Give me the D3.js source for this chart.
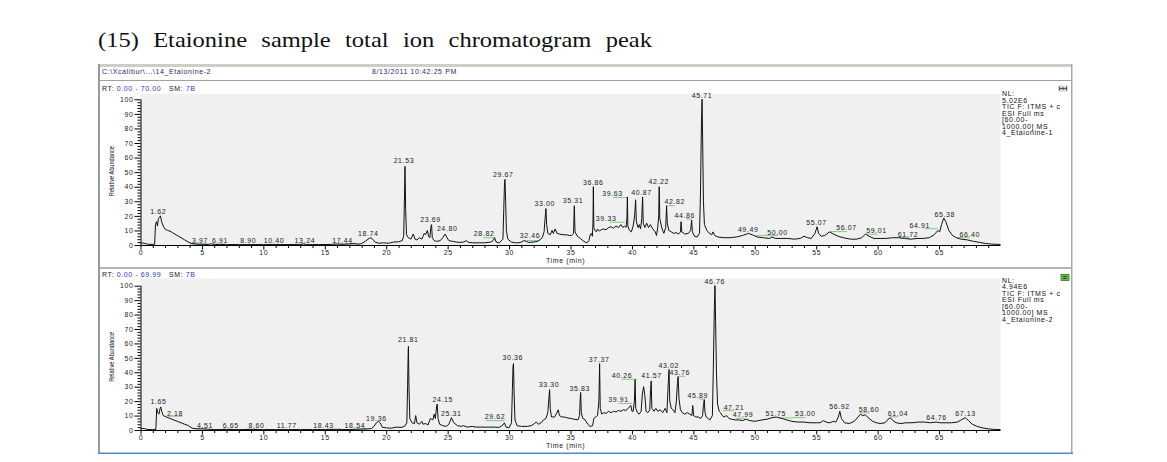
<!DOCTYPE html>
<html>
<head>
<meta charset="utf-8">
<script src="https://cdn.jsdelivr.net/npm/d3@7"></script>
<style>
  html, body { margin: 0; padding: 0; background: #ffffff; }
  svg { display: block; }
  .sm { font-family: "Liberation Sans", Arial, sans-serif; font-size: 7px; letter-spacing: 0.6px; }
</style>
</head>
<body>
<svg id="chart" width="1167" height="462"></svg>
<script>
// ---------------- DATA ----------------
const titleText = "(15) Etaionine sample total ion chromatogram peak";
const headerFile = "C:\\Xcalibur\\...\\14_Etaionine-2";
const headerDate = "8/13/2011 10:42:25 PM";
const xTicks = [0, 5, 10, 15, 20, 25, 30, 35, 40, 45, 50, 55, 60, 65];
const yTicks = [0, 10, 20, 30, 40, 50, 60, 70, 80, 90, 100];

const topInfo = ["NL:", "5.02E6", "TIC F: ITMS + c", "ESI Full ms", "[60.00-", "1000.00]  MS", "4_Etaionine-1"];
const botInfo = ["NL:", "4.94E6", "TIC F: ITMS + c", "ESI Full ms", "[60.00-", "1000.00]  MS", "4_Etaionine-2"];
const topRT = ["RT: ", "0.00 - 70.00", "   SM: ", "7B"];
const botRT = ["RT: ", "0.00 - 69.99", "   SM: ", "7B"];

// [time (min), relative abundance]
const topTrace = [
 [0,1.5],[0.3,1.2],[0.6,0.5],[1.0,0.4],[1.15,0.5],[1.22,14],[1.3,16],[1.38,13],[1.45,18],[1.55,19],[1.62,20],[1.72,16],
 [1.85,13],[2.0,11],[2.2,10],[2.4,9.5],[2.6,8.5],[2.8,7.5],[3.0,6.5],[3.3,5],[3.6,3.5],[3.9,2],[4.2,1],[4.6,0.6],[5.0,0.5],
 [5.5,0.4],[5.8,0.8],[6.0,0.3],[6.5,0.4],[7.0,0.3],[8.0,0.3],[9.0,0.3],[10.0,0.3],[11.0,0.3],[12.0,0.3],[13.0,0.4],[13.3,0.7],
 [13.5,0.3],[14.5,0.3],[15.5,0.4],[16.0,0.7],[16.5,0.5],[17.0,0.8],[17.4,1.0],[17.7,0.6],[18.0,1.0],[18.3,2.5],[18.6,4.5],
 [18.74,5],[18.9,4],[19.1,2],[19.4,1.2],[19.8,1.5],[20.2,1.2],[20.6,2],[21.0,2.2],[21.3,3],[21.42,6],[21.48,30],[21.53,54],
 [21.58,25],[21.65,7],[21.8,5],[22.0,4],[22.2,7.5],[22.35,4],[22.5,3.5],[22.7,5],[22.9,4],[23.0,6],[23.1,8],[23.2,7],[23.35,10],
 [23.45,6],[23.55,5],[23.63,12],[23.69,14],[23.75,5],[23.9,3],[24.1,2.5],[24.4,3],[24.6,5],[24.8,7.5],[24.95,5],[25.1,3],
 [25.4,2.5],[25.7,2],[26.0,1.8],[26.3,2],[26.5,3],[26.7,1.8],[27.0,1.5],[27.5,1.5],[28.0,1.5],[28.5,2],[28.7,3],[28.82,5],
 [28.95,2],[29.2,1.5],[29.5,4],[29.57,25],[29.63,43],[29.67,45],[29.72,30],[29.78,10],[29.9,4],[30.2,2],[30.5,1.5],[30.8,1.5],
 [31.0,2],[31.2,3],[31.4,2.5],[31.6,1.8],[32.0,2],[32.3,2.5],[32.5,3.5],[32.7,5],[32.85,9],[32.93,18],[33.0,25],[33.06,14],
 [33.15,8],[33.35,7],[33.5,10],[33.6,8],[33.75,11],[33.9,8],[34.1,7.5],[34.4,7],[34.7,7],[34.9,6.5],[35.1,6.5],[35.25,8],
 [35.31,27],[35.37,9],[35.55,6],[35.8,4.5],[36.0,3],[36.2,2],[36.35,1.5],[36.5,3],[36.6,7],[36.7,8],[36.78,6],[36.83,15],
 [36.86,40],[36.9,12],[37.0,10],[37.1,9],[37.2,11],[37.35,9.5],[37.5,10.5],[37.7,11],[37.9,10.5],[38.1,12],[38.3,12.5],
 [38.5,11.5],[38.7,13],[38.9,12],[39.1,14],[39.25,12],[39.4,13],[39.52,12],[39.59,18],[39.63,33],[39.67,13],[39.8,10],[39.95,9],
 [40.1,13],[40.22,20],[40.3,31],[40.36,16],[40.5,12],[40.6,14],[40.7,11],[40.8,18],[40.87,33],[40.92,15],[41.05,12],[41.2,15],
 [41.35,12],[41.5,14],[41.7,11],[41.9,9],[42.0,6.5],[42.1,12],[42.18,20],[42.22,40],[42.27,18],[42.4,13],[42.5,10],[42.6,8],
 [42.75,12],[42.82,27],[42.88,15],[43.0,10],[43.2,9],[43.4,8],[43.6,8.5],[43.8,7.5],[43.95,9],[44.0,16],[44.06,9],[44.3,7.5],
 [44.6,8],[44.78,10],[44.86,17],[44.92,9],[45.1,6],[45.3,5.5],[45.5,8],[45.58,35],[45.66,85],[45.71,100],[45.76,70],[45.82,30],
 [45.9,14],[46.1,10],[46.3,8],[46.5,7],[46.6,9],[46.75,6.5],[47.0,5.5],[47.5,5],[48.0,5],[48.5,5.5],[49.0,6.5],[49.49,8],
 [49.8,7],[50.2,5.5],[50.7,5],[51.2,4.5],[51.4,5.5],[51.7,4.5],[52.2,4.5],[52.7,4.5],[53.2,4],[53.7,4.5],[54.0,6],[54.3,5],
 [54.6,4.5],[54.9,8],[55.07,12.5],[55.2,8],[55.4,6],[55.7,6.5],[56.07,9],[56.4,7.5],[56.8,6],[57.2,5],[57.8,4],[58.3,4],
 [58.7,5],[59.01,7.5],[59.3,6],[59.7,4.5],[60.2,4.5],[60.7,4.5],[61.2,5],[61.72,5],[62.2,4.5],[62.7,4],[63.2,4.5],[63.7,4.5],
 [64.2,5],[64.6,7],[64.91,10],[65.05,9],[65.2,14],[65.38,18.5],[65.55,16],[65.8,10],[66.1,6.5],[66.4,5],[66.8,4],[67.3,3.5],
 [67.8,2.5],[68.3,1.8],[68.8,1],[69.3,0.6],[70.0,0.4]
];

const botTrace = [
 [0,1.2],[0.3,1],[0.6,0.3],[1.0,0.3],[1.25,0.4],[1.32,15],[1.4,12],[1.5,11],[1.6,15],[1.65,16],[1.72,13],[1.85,10],[2.1,9],
 [2.4,8],[2.7,7],[3.0,6],[3.3,5],[3.6,4],[3.9,3],[4.2,1.2],[4.6,0.8],[5.0,0.8],[5.5,0.5],[6.0,0.3],[7.0,0.3],[8.0,0.3],
 [9.0,0.3],[10.0,0.3],[11.0,0.3],[12.0,0.3],[13.0,0.3],[14.0,0.3],[15.0,0.3],[16.0,0.3],[17.0,0.3],[17.8,0.6],[18.5,0.8],
 [18.8,1.0],[19.0,2.5],[19.2,5],[19.36,6],[19.5,5],[19.7,1.8],[20.0,1.5],[20.4,1.2],[20.8,2],[21.2,1.8],[21.5,2.5],[21.68,5],
 [21.74,30],[21.79,55],[21.81,58],[21.85,30],[21.92,8],[22.1,5],[22.3,4.5],[22.4,10],[22.5,5],[22.7,4],[22.9,6],[23.0,4],
 [23.2,4.5],[23.4,3.5],[23.6,8],[23.8,7],[23.9,11],[24.0,8],[24.1,16],[24.15,18],[24.22,8],[24.35,4],[24.6,3],[24.9,2.5],
 [25.1,4],[25.31,8.5],[25.5,5],[25.8,3],[26.1,2.5],[26.3,3],[26.6,2],[27.0,2.5],[27.3,2],[27.8,2],[28.3,2],[28.8,2],[29.2,1.8],
 [29.5,3.5],[29.62,5],[29.75,2],[30.0,1.5],[30.2,5],[30.27,28],[30.32,44],[30.36,46],[30.41,25],[30.48,7],[30.65,3],[31.0,2.5],
 [31.5,2.5],[31.8,3],[32.0,4],[32.2,5.5],[32.4,4],[32.6,5],[32.8,7],[33.0,8],[33.15,12],[33.24,22],[33.3,28],[33.35,15],
 [33.45,9],[33.7,9],[33.9,12],[34.0,14],[34.1,10],[34.3,9],[34.5,9],[34.7,8.5],[35.0,8],[35.3,7.5],[35.6,7],[35.74,10],
 [35.79,22],[35.83,26],[35.88,12],[36.0,8],[36.2,7],[36.4,4],[36.6,2.5],[36.8,3],[36.9,8],[37.05,9],[37.2,10],[37.31,20],
 [37.37,46],[37.42,15],[37.55,11],[37.7,12],[37.9,11.5],[38.1,13],[38.3,12],[38.5,13],[38.7,12.5],[38.9,13.5],[39.1,13],
 [39.3,14],[39.5,13.5],[39.7,15],[39.91,17],[40.0,13],[40.1,13],[40.2,20],[40.26,35],[40.31,15],[40.45,12],[40.6,11],
 [40.75,13],[40.85,25],[40.95,30],[41.05,24],[41.15,13],[41.3,12],[41.45,14],[41.52,28],[41.57,34],[41.62,15],[41.8,13],
 [41.95,15],[42.1,13],[42.3,14],[42.5,12],[42.7,15],[42.85,12],[42.96,33],[43.02,42],[43.08,20],[43.2,15],[43.35,14],[43.5,12],
 [43.62,20],[43.7,32],[43.76,37],[43.83,22],[43.95,14],[44.1,12],[44.3,11],[44.5,12],[44.7,11],[44.88,10],[44.95,17],[45.02,10],
 [45.2,9],[45.4,9],[45.6,8],[45.75,10],[45.82,17],[45.89,21],[45.95,12],[46.05,9],[46.2,8],[46.35,7],[46.55,10],[46.63,45],
 [46.71,85],[46.76,100],[46.81,75],[46.88,40],[46.97,18],[47.1,13],[47.21,12],[47.35,10],[47.5,9],[47.7,10],[47.9,8],[48.1,7.5],
 [48.4,7],[48.7,7],[49.0,6.5],[49.3,7.5],[49.6,6.5],[50.0,6],[50.3,6.5],[50.6,7],[51.0,7.5],[51.4,8.5],[51.75,9],[52.2,8],
 [52.6,7],[53.0,6],[53.5,5.5],[54.0,5.5],[54.5,5],[55.0,5],[55.3,5],[55.6,6.5],[55.8,5.5],[56.1,5],[56.4,6],[56.6,5.5],
 [56.8,9],[56.92,13],[57.05,8],[57.3,5],[57.7,4.5],[58.1,6],[58.4,9],[58.6,11],[58.8,10],[59.0,10.5],[59.3,8],[59.6,6],
 [59.9,5],[60.2,4.5],[60.6,5],[60.85,7.5],[61.04,8.5],[61.25,6.5],[61.5,5],[61.9,4.5],[62.3,5],[62.8,5],[63.3,5.5],[63.8,5.5],
 [64.3,5],[64.76,5.5],[65.1,5],[65.5,5],[66.0,5],[66.5,5.5],[66.8,7],[67.13,8.5],[67.4,6.5],[67.7,4],[68.1,2.5],[68.5,1.5],
 [69.0,0.8],[69.5,0.4],[70.0,0.3]
];

// peak labels: [text, time of label centre, abundance of label baseline]
const topLabels = [
 ["1.62",1.45,21.5],["3.97",4.85,1.6],["6.91",6.47,1.6],["8.90",8.77,1.6],["10.40",10.86,1.6],["13.24",13.38,1.6],
 ["17.44",16.45,1.6],["18.74",18.54,6.5],["21.53",21.44,56.5],["23.69",23.6,16],["24.80",24.96,9.5],["28.82",27.97,6.5],
 ["29.67",29.52,47],["32.46",31.7,4.5],["33.00",32.9,27],["35.31",35.2,28.7],["36.86",36.85,41],["39.33",37.9,16.5],
 ["39.63",38.42,33.5],["40.87",40.78,34.2],["42.22",42.19,42.2],["42.82",43.49,27.8],["44.86",44.3,18.2],["45.71",45.71,101.2],
 ["49.49",49.46,8.8],["50.00",51.85,7.2],["55.07",55.02,13.4],["56.07",57.46,10],["59.01",59.9,7.9],["61.72",62.47,5.6],
 ["64.91",63.42,11.8],["65.38",65.46,19.4],["66.40",67.5,5.6]
];
const botLabels = [
 ["1.65",1.46,17.9],["2.18",2.8,9.8],["4.51",5.25,1.6],["6.65",7.35,1.6],["8.60",9.45,1.6],["11.77",11.9,1.6],
 ["18.43",14.9,1.6],["18.54",17.45,1.6],["19.36",19.2,6.2],["21.81",21.8,61],["24.15",24.6,19.7],["25.31",25.3,9.4],
 ["29.62",28.85,7.5],["30.36",30.3,48.5],["33.30",33.25,29.5],["35.83",35.76,27.2],["37.37",37.33,47.2],["39.91",38.9,19.5],
 ["40.26",39.2,36],["41.57",41.6,36],["43.02",43.0,43.2],["43.76",43.9,38],["45.89",45.35,22.2],["46.76",46.75,101.5],
 ["47.21",48.3,14.2],["47.99",49.05,8.8],["51.75",51.7,9.9],["53.00",54.1,9.4],["56.92",56.9,14.8],["58.60",59.3,12.6],
 ["61.04",61.65,9.9],["64.76",64.8,7.2],["67.13",67.15,9.9]
];

// green label-marker segments: [start time, end time, abundance]
const topMarks = [
 [4.0,5.5,0.6],[5.8,6.9,0.6],[10.3,11.35,0.5],[12.9,13.5,0.5],[15.7,17.6,0.6],[27.9,28.85,5],[31.4,32.5,3],
 [38.2,39.4,15.6],[38.45,39.6,32.6],[42.95,43.5,27],[44.4,44.9,17.8],[50.1,51.9,6.6],[56.1,57.5,9.2],
 [59.0,60.0,7.4],[61.8,62.6,5.0],[63.8,64.9,11.2],[66.5,67.5,5.0]
];
const botMarks = [
 [2.2,3.4,9.5],[4.6,5.4,1.0],[6.6,7.4,0.7],[8.65,9.45,0.7],[15.15,16.35,0.6],[17.6,18.5,0.7],[28.1,29.65,6.5],
 [38.9,40.0,18.4],[39.15,40.4,35.2],[43.75,44.3,37.2],[45.45,45.95,21.4],[47.4,48.3,13.4],[48.5,49.2,8.2],
 [51.95,53.1,8.4],[53.1,54.1,8.6],[58.55,59.35,12],[61.0,61.7,9.2]
];

// ---------------- DRAW ----------------
const svg = d3.select("#chart");
const FONT = "Liberation Sans, Arial, sans-serif";

// title (horizontally widened serif to match the book face)
const TSX = 1.14;
const title = svg.append("text")
  .attr("transform", `translate(98,47) scale(${TSX},1)`)
  .attr("font-family", "Liberation Serif, Times New Roman, serif")
  .attr("font-size", 21.5).attr("fill", "#111")
  .text(titleText);
const tl = title.node().getComputedTextLength();
const nSpaces = titleText.split(" ").length - 1;
title.attr("word-spacing", Math.max(0, (554 / TSX - tl) / nSpaces));

// window frame
svg.append("rect").attr("x", 98).attr("y", 64).attr("width", 974).attr("height", 3).attr("fill", "#cfcdc5");
svg.append("rect").attr("x", 98).attr("y", 64).attr("width", 2).attr("height", 390).attr("fill", "#9a9a9a");
svg.append("rect").attr("x", 1071).attr("y", 64).attr("width", 1.5).attr("height", 390).attr("fill", "#a8a8a8");
svg.append("rect").attr("x", 100).attr("y", 80).attr("width", 971).attr("height", 1).attr("fill", "#a0a0a0");
svg.append("rect").attr("x", 100).attr("y", 267).attr("width", 971).attr("height", 2).attr("fill", "#b4b4b4");
svg.append("rect").attr("x", 98).attr("y", 452.5).attr("width", 975).attr("height", 1.5).attr("fill", "#5b86c8");

// header
svg.append("text").attr("class", "sm").attr("x", 102).attr("y", 74).attr("fill", "#1d2a6e").text(headerFile);
svg.append("text").attr("class", "sm").attr("x", 372).attr("y", 74).attr("fill", "#1d2a6e").text(headerDate);

const x = d3.scaleLinear().domain([0, 70]).range([140.5, 1000.5]);

function panel(cfg) {
  const y = d3.scaleLinear().domain([0, 100]).range([cfg.y0, cfg.y100]);
  const g = svg.append("g");
  // plot background
  g.append("rect").attr("x", x(0)).attr("y", cfg.bgTop)
    .attr("width", x(70) - x(0)).attr("height", cfg.y0 - cfg.bgTop).attr("fill", "#f0f0f0");

  // RT line
  const rt = g.append("text").attr("class", "sm").attr("x", 102).attr("y", cfg.rtY).attr("xml:space", "preserve");
  cfg.rt.forEach((s, i) => rt.append("tspan").attr("fill", i % 2 ? "#2c35c8" : "#222").text(s));

  // x axis
  const xa = g.append("g").attr("transform", `translate(0,${cfg.y0})`)
    .call(d3.axisBottom(x).tickValues(d3.range(0, 70, 1)).tickSize(3).tickFormat(""));
  xa.selectAll(".tick line").attr("y2", d => d % 5 === 0 ? 4.5 : 3);
  xa.select(".domain").attr("d", `M${x(0)},0.5H${x(70)}`);
  g.append("g").attr("transform", `translate(0,${cfg.y0})`)
    .call(d3.axisBottom(x).tickValues(xTicks).tickSize(0).tickPadding(5))
    .call(s => s.select(".domain").remove())
    .selectAll("text").attr("class", "sm").attr("font-family", FONT).attr("fill", "#222");

  // y axis
  const ya = g.append("g").attr("transform", `translate(${x(0)},0)`)
    .call(d3.axisLeft(y).tickValues(d3.range(0, 101, 2)).tickSize(3).tickFormat(""));
  ya.selectAll(".tick line").attr("x2", d => d % 10 === 0 ? -6 : -3);
  ya.select(".domain").attr("d", `M0.5,${cfg.y0}V${cfg.y100}`);
  g.append("g").attr("transform", `translate(${x(0)},0)`)
    .call(d3.axisLeft(y).tickValues(yTicks).tickSize(0).tickPadding(7))
    .call(s => s.select(".domain").remove())
    .selectAll("text").attr("class", "sm").attr("font-family", FONT).attr("fill", "#222");

  svg.selectAll(".tick text").attr("font-size", null);

  // axis titles
  g.append("text").attr("font-family", FONT).attr("font-size", 6.5).attr("fill", "#222")
    .attr("transform", `translate(114,${(cfg.y0 + cfg.y100) / 2 - 1}) rotate(-90)`)
    .attr("text-anchor", "middle").attr("textLength", 50).attr("lengthAdjust", "spacingAndGlyphs")
    .text("Relative Abundance");
  g.append("text").attr("class", "sm").attr("x", 546).attr("y", cfg.y0 + 17.5).attr("fill", "#222").text("Time (min)");

  // green markers
  g.selectAll(".mk").data(cfg.marks).join("line")
    .attr("x1", d => x(d[0])).attr("x2", d => x(d[1]))
    .attr("y1", d => y(d[2])).attr("y2", d => y(d[2]))
    .attr("stroke", "#7ccf7c").attr("stroke-width", 1);

  // trace
  const line = d3.line().x(d => x(d[0])).y(d => y(d[1]));
  g.append("path").datum(cfg.trace).attr("d", line)
    .attr("fill", "none").attr("stroke", "#111").attr("stroke-width", 1).attr("stroke-linejoin", "round");

  // peak labels
  g.selectAll(".pl").data(cfg.labels).join("text").attr("class", "sm")
    .attr("x", d => x(d[1])).attr("y", d => y(d[2]))
    .attr("text-anchor", "middle").attr("fill", "#222").text(d => d[0]);

  // info text
  g.selectAll(".inf").data(cfg.info).join("text").attr("class", "sm")
    .attr("x", 1002).attr("y", (d, i) => cfg.infoY + i * 6.5).attr("fill", "#111").text(d => d);

  // icon
  const ic = g.append("g").attr("transform", `translate(${cfg.iconX},${cfg.iconY})`);
  if (cfg.green) {
    ic.append("rect").attr("width", 8).attr("height", 6).attr("fill", "#5fd02a").attr("stroke", "#333").attr("stroke-width", 0.6);
    ic.append("path").attr("d", "M2,2H6M2,4H6").attr("stroke", "#222").attr("stroke-width", 0.8);
  } else {
    ic.append("rect").attr("width", 10).attr("height", 6).attr("fill", "#d8d8d8");
    ic.append("path").attr("d", "M1.5,3H8.5M1.5,1V5M5,1.5V4.5M8.5,1V5").attr("stroke", "#333").attr("stroke-width", 0.8);
  }
}

panel({ y0: 245, y100: 99.3, bgTop: 94, rtY: 90.5, rt: topRT, trace: topTrace, labels: topLabels, marks: topMarks,
        info: topInfo, infoY: 96.2, iconX: 1058, iconY: 85.5, green: false });
panel({ y0: 430, y100: 285.7, bgTop: 278.5, rtY: 277, rt: botRT, trace: botTrace, labels: botLabels, marks: botMarks,
        info: botInfo, infoY: 282.8, iconX: 1061, iconY: 274.5, green: true });
</script>
</body>
</html>
